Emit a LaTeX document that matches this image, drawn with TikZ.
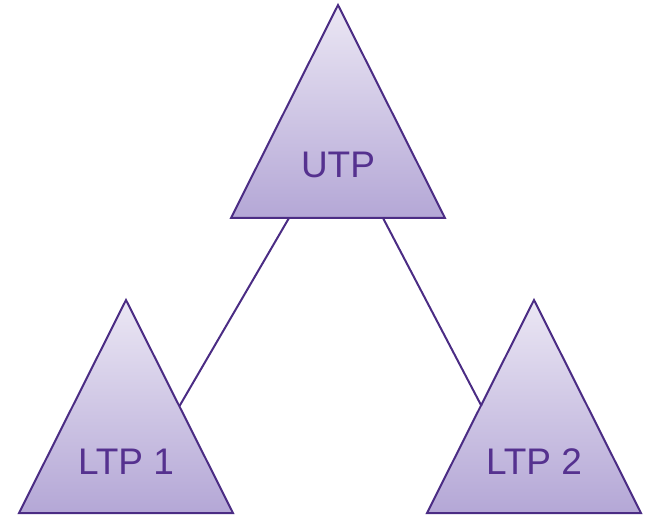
\documentclass[tikz,border=0pt]{standalone}
\usepackage{fontspec}
\setmainfont{Liberation Sans}
\definecolor{edgepurple}{HTML}{4B2C84}
\definecolor{textpurple}{HTML}{55318F}
\definecolor{filltop}{HTML}{EBE7F4}
\definecolor{fillbot}{HTML}{B4A7D6}
\tikzset{
  tri/.style={top color=filltop, bottom color=fillbot, draw=edgepurple, line width=2pt, line join=miter},
  trilabel/.style={text=textpurple, font=\fontsize{37}{40}\selectfont, inner sep=0pt, anchor=base},
  link/.style={draw=edgepurple, line width=2pt}
}
\begin{document}
\begin{tikzpicture}[x=1pt,y=-1pt]
  \useasboundingbox (0,0) rectangle (646,516);
  % upper triangle
  \shade[tri] (338,5) -- (445,218) -- (231,218) -- cycle;
  \node[trilabel] (utp) at (338,178) {UTP};
  % lower left triangle
  \shade[tri] (126,300) -- (233,513) -- (19,513) -- cycle;
  \node[trilabel] (ltpa) at (126,474) {LTP 1};
  % lower right triangle
  \shade[tri] (534,300) -- (641,513) -- (427,513) -- cycle;
  \node[trilabel] (ltpb) at (534,474) {LTP 2};
  % attachment points of the connectors
  \coordinate (ua) at (289,218);
  \coordinate (ub) at (383,218);
  \coordinate (la) at (179.5,406);
  \coordinate (lb) at (481.5,406);
  \draw[link] (ua) -- (la);
  \draw[link] (ub) -- (lb);
\end{tikzpicture}
\end{document}
